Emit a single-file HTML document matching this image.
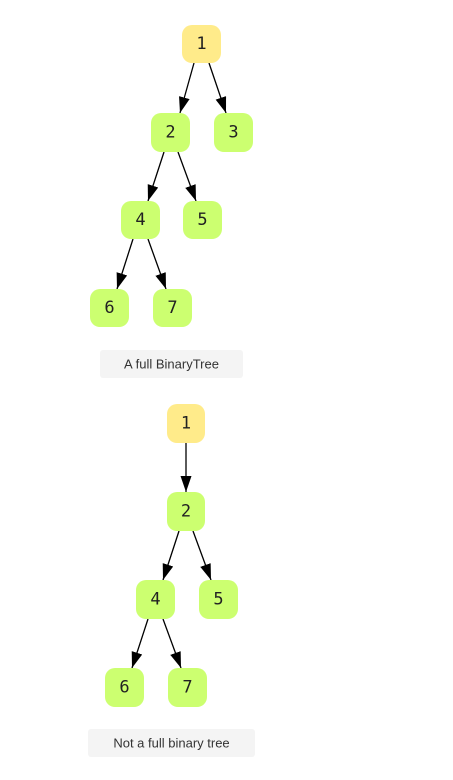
<!DOCTYPE html>
<html><head><meta charset="utf-8"><style>
html,body{margin:0;padding:0;background:#fff;width:453px;height:780px;overflow:hidden}
svg{display:block}
.n text{font-family:"DejaVu Sans Mono","Liberation Mono",monospace;font-size:17px;fill:#222;text-anchor:middle;dominant-baseline:central}
.l text{font-family:"Liberation Sans",sans-serif;font-size:13px;fill:#333;text-anchor:middle;dominant-baseline:central}
line{stroke:#000;stroke-width:1.3}
</style></head><body>
<svg width="453" height="780" viewBox="0 0 453 780">
<defs>
<marker id="b" viewBox="0 0 16 11" refX="16" refY="5.5" markerWidth="16" markerHeight="11" orient="auto" markerUnits="userSpaceOnUse"><path d="M0,0 L16,5.5 L0,11 z" fill="#000"/></marker></defs>
<g>
<line x1="194" y1="63" x2="180" y2="113" marker-end="url(#b)"/>
<line x1="209" y1="63" x2="226" y2="113" marker-end="url(#b)"/>
<line x1="164" y1="152" x2="148" y2="201" marker-end="url(#b)"/>
<line x1="178" y1="152" x2="196" y2="201" marker-end="url(#b)"/>
<line x1="133" y1="239" x2="117" y2="289" marker-end="url(#b)"/>
<line x1="148" y1="239" x2="166" y2="289" marker-end="url(#b)"/>
<line x1="186" y1="443" x2="186" y2="492" marker-end="url(#b)"/>
<line x1="179" y1="531" x2="163" y2="580" marker-end="url(#b)"/>
<line x1="193" y1="531" x2="211" y2="580" marker-end="url(#b)"/>
<line x1="148" y1="619" x2="132" y2="668" marker-end="url(#b)"/>
<line x1="163" y1="619" x2="181" y2="668" marker-end="url(#b)"/>
</g>
<g class="n">
<rect x="182" y="25" width="39" height="38" rx="10" fill="#ffeb8a"/><text x="201.5" y="44">1</text>
<rect x="151" y="113" width="39" height="39" rx="10" fill="#ccff70"/><text x="170.5" y="132.5">2</text>
<rect x="214" y="113" width="39" height="39" rx="10" fill="#ccff70"/><text x="233.5" y="132.5">3</text>
<rect x="121" y="201" width="39" height="38" rx="10" fill="#ccff70"/><text x="140.5" y="220">4</text>
<rect x="183" y="201" width="39" height="38" rx="10" fill="#ccff70"/><text x="202.5" y="220">5</text>
<rect x="90" y="289" width="39" height="38" rx="10" fill="#ccff70"/><text x="109.5" y="308">6</text>
<rect x="153" y="289" width="39" height="38" rx="10" fill="#ccff70"/><text x="172.5" y="308">7</text>

<rect x="167" y="404" width="38" height="39" rx="10" fill="#ffeb8a"/><text x="186" y="423.5">1</text>
<rect x="167" y="492" width="38" height="39" rx="10" fill="#ccff70"/><text x="186" y="511.5">2</text>
<rect x="136" y="580" width="39" height="39" rx="10" fill="#ccff70"/><text x="155.5" y="599.5">4</text>
<rect x="199" y="580" width="39" height="39" rx="10" fill="#ccff70"/><text x="218.5" y="599.5">5</text>
<rect x="105" y="668" width="39" height="39" rx="10" fill="#ccff70"/><text x="124.5" y="687.5">6</text>
<rect x="168" y="668" width="39" height="39" rx="10" fill="#ccff70"/><text x="187.5" y="687.5">7</text>
</g>
<g class="l">
<rect x="100" y="350" width="143" height="28" rx="3" fill="#f4f4f4"/><text x="171.5" y="364">A full BinaryTree</text>
<rect x="88" y="729" width="167" height="28" rx="3" fill="#f4f4f4"/><text x="171.5" y="743">Not a full binary tree</text>
</g>
</svg>
</body></html>
